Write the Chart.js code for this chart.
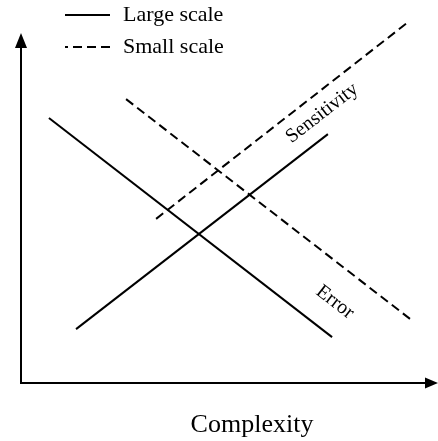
<!DOCTYPE html>
<html>
<head>
<meta charset="utf-8">
<script src="https://cdn.jsdelivr.net/npm/chart.js@4/dist/chart.umd.min.js"></script>
<style>
  body { margin: 0; background: #fff; }
</style>
</head>
<body>
<canvas id="myChart" width="438" height="441"></canvas>
<script>
// 선 양 끝점 (복잡도, 값) - 그림에서 읽은 값
const largeErrorX = [0.67, 7.46];
const largeErrorY = [7.57, 1.31];
const largeSensX = [1.32, 7.36];
const largeSensY = [1.54, 7.11];
const smallErrorX = [2.52, 9.33];
const smallErrorY = [8.11, 1.83];
const smallSensX = [3.24, 9.26];
const smallSensY = [4.69, 10.29];

const legendLabels = ['Large scale', 'Small scale'];
const curveLabels = ['Sensitivity', 'Error'];
const curveLabelX = [7.22, 7.53];
const curveLabelY = [7.71, 2.31];
const xTitle = 'Complexity';

const serif = "'Liberation Serif', 'Times New Roman', serif";
const dash = [9, 5];

function pts(xs, ys) {
  return xs.map(function (x, i) { return { x: x, y: ys[i] }; });
}

function lineSet(label, xs, ys, dashed) {
  return {
    label: label,
    data: pts(xs, ys),
    showLine: true,
    borderColor: '#000',
    borderWidth: 2,
    borderDash: dashed ? dash : [],
    pointRadius: 0,
    pointHoverRadius: 0,
    fill: false,
    clip: false
  };
}

const data1 = {
  datasets: [
    lineSet('Large scale error', largeErrorX, largeErrorY, false),
    lineSet('Large scale sensitivity', largeSensX, largeSensY, false),
    lineSet('Small scale error', smallErrorX, smallErrorY, true),
    lineSet('Small scale sensitivity', smallSensX, smallSensY, true)
  ]
};

// 화살표 축 + 곡선 이름 + 범례 + 축 제목
const sketchPlugin = {
  id: 'sketch',
  afterDraw: function (chart) {
    const ctx = chart.ctx;
    const a = chart.chartArea;
    const xs = chart.scales.x, ys = chart.scales.y;
    ctx.save();
    ctx.strokeStyle = '#000';
    ctx.fillStyle = '#000';
    ctx.lineWidth = 2;
    ctx.setLineDash([]);

    // 축
    ctx.beginPath();
    ctx.moveTo(a.left, a.top + 12);
    ctx.lineTo(a.left, a.bottom);
    ctx.lineTo(a.right - 10, a.bottom);
    ctx.stroke();
    // 화살촉
    ctx.beginPath();
    ctx.moveTo(a.left, a.top);
    ctx.lineTo(a.left - 6, a.top + 15);
    ctx.lineTo(a.left + 6, a.top + 15);
    ctx.closePath();
    ctx.fill();
    ctx.beginPath();
    ctx.moveTo(a.right, a.bottom);
    ctx.lineTo(a.right - 13, a.bottom - 5.5);
    ctx.lineTo(a.right - 13, a.bottom + 5.5);
    ctx.closePath();
    ctx.fill();

    // 곡선 이름 (선과 나란히)
    const ang = Math.atan2(
      ys.getPixelForValue(largeSensY[1]) - ys.getPixelForValue(largeSensY[0]),
      xs.getPixelForValue(largeSensX[1]) - xs.getPixelForValue(largeSensX[0])
    );
    ctx.font = '20px ' + serif;
    ctx.textAlign = 'center';
    ctx.textBaseline = 'middle';
    curveLabels.forEach(function (t, i) {
      ctx.save();
      ctx.translate(xs.getPixelForValue(curveLabelX[i]), ys.getPixelForValue(curveLabelY[i]));
      ctx.rotate(i === 0 ? ang : -ang);
      ctx.fillText(t, 0, 0);
      ctx.restore();
    });

    // x축 제목 (가운데보다 약간 오른쪽)
    ctx.font = '26px ' + serif;
    ctx.fillText(xTitle, a.left + 231, a.bottom + 42);

    // 범례
    ctx.font = '22px ' + serif;
    ctx.textAlign = 'left';
    legendLabels.forEach(function (t, i) {
      const y = 15 + i * 32;
      ctx.setLineDash(i === 0 ? [] : dash);
      ctx.beginPath();
      ctx.moveTo(110, y);
      ctx.lineTo(65, y);
      ctx.stroke();
      ctx.fillText(t, 123, y);
    });
    ctx.restore();
  }
};

const config1 = {
  type: 'scatter',
  data: data1,
  options: {
    responsive: false,
    animation: false,
    events: [],
    layout: { padding: { left: 21, right: 0, top: 33, bottom: 58 } },
    plugins: {
      legend: { display: false },
      tooltip: { enabled: false }
    },
    scales: {
      x: {
        display: false,
        min: 0,
        max: 10
      },
      y: {
        display: false,
        min: 0,
        max: 10
      }
    }
  },
  plugins: [sketchPlugin]
};

const myChart1 = new Chart(document.getElementById('myChart'), config1);
</script>
</body>
</html>
